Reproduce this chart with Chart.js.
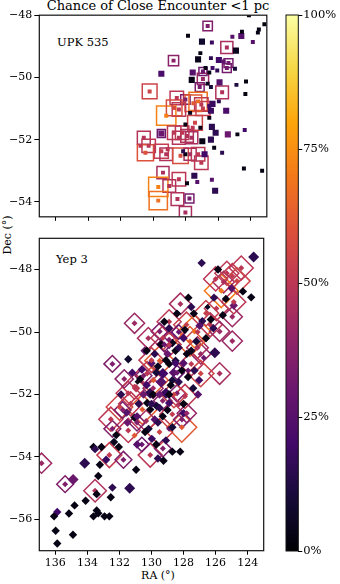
<!DOCTYPE html>
<html><head><meta charset="utf-8">
<script src="https://cdn.jsdelivr.net/npm/chart.js@4"></script>
<style>
html,body{margin:0;padding:0;background:#fff;}
body{width:340px;height:584px;position:relative;overflow:hidden;}
canvas{position:absolute;}
.t{position:absolute;white-space:nowrap;color:#000;font-family:"DejaVu Serif",serif;}
</style></head><body>
<div class="t" style="left:0;width:316px;top:-2px;text-align:center;font-size:13px;line-height:16px;">Chance of Close Encounter &lt;1 pc</div>
<div class="t" style="left:57px;top:35px;font-size:11.5px;line-height:14px;">UPK 535</div>
<div class="t" style="left:56px;top:252px;font-size:11.5px;line-height:14px;">Yep 3</div>
<div class="t" style="left:-22px;top:228px;width:60px;text-align:center;font-size:11px;line-height:14px;transform:rotate(-90deg);">Dec (°)</div>
<div class="t" style="left:118px;width:80px;top:569px;text-align:center;font-size:11px;line-height:14px;">RA (°)</div>
<canvas id="cTop" width="282" height="232" style="left:0;top:0;"></canvas>
<canvas id="cBot" width="282" height="350" style="left:0;top:220px;"></canvas>
<canvas id="cBar" width="60" height="584" style="left:280px;top:0;"></canvas>
<script>
// ---- data: UPK 535 ----
const upkRA = [123.15,126.64,127.85,126.99,126.38,125.12,124.57,124.53,123.55,123.49,
123.86,125.46,124.90,127.09,127.23,128.74,126.44,125.95,125.65,125.36,
126.77,126.34,125.46,124.96,129.49,127.56,126.93,126.54,126.05,127.62,
126.93,126.64,125.91,124.28,127.13,126.44,125.75,124.87,124.32,130.21,
128.54,128.01,127.23,127.03,127.52,126.54,126.34,125.95,129.19,128.41,
128.70,127.72,126.93,126.44,125.50,126.54,128.01,127.42,127.56,127.09,
126.38,126.15,125.40,124.81,124.36,129.49,128.70,128.21,128.41,127.91,
127.62,126.97,126.44,126.24,130.57,130.27,130.77,130.47,129.49,129.19,
129.10,128.31,128.01,127.72,127.23,126.83,127.03,128.15,125.75,124.41,
123.29,129.39,128.41,127.46,127.91,127.28,126.38,129.68,129.00,126.18,
129.68,128.50,127.76,128.01,124.10];
const upkDec = [-48.29,-48.35,-48.66,-48.85,-48.88,-48.69,-48.67,-48.53,-48.56,-48.46,
-48.86,-49.04,-49.14,-49.22,-49.42,-49.46,-49.38,-49.44,-49.49,-49.54,
-49.70,-49.70,-49.70,-49.72,-49.88,-49.84,-49.81,-49.84,-49.78,-50.08,
-50.05,-50.20,-50.16,-50.13,-50.31,-50.31,-50.48,-50.24,-50.53,-50.45,
-50.66,-50.71,-50.77,-50.87,-50.83,-50.92,-50.85,-50.77,-51.23,-51.03,
-50.98,-51.14,-51.00,-51.07,-51.07,-51.30,-51.51,-51.46,-51.62,-51.62,
-51.59,-51.78,-51.83,-51.83,-51.69,-51.80,-51.78,-51.78,-51.94,-51.88,
-51.94,-52.05,-52.00,-52.26,-51.94,-52.20,-52.20,-52.42,-52.37,-52.47,
-52.31,-52.52,-52.47,-52.47,-52.47,-52.47,-52.74,-52.37,-52.42,-52.93,
-53.00,-53.06,-53.27,-53.16,-53.40,-53.36,-53.29,-53.52,-53.49,-53.64,
-53.96,-53.91,-53.89,-54.34,-48.00];
const upkProb = [.02,.35,.02,.08,.18,.25,.25,.03,.03,.03,
.25,.45,.05,.03,.04,.38,.15,.2,.28,.33,
.03,.2,.33,.1,.22,.25,.3,.03,.15,.03,
.42,.05,.25,.02,.33,.1,.47,.12,.02,.55,
.5,.35,.68,.5,.62,.2,.18,.15,.72,.5,
.58,.05,.52,.18,.22,.03,.03,.55,.5,.03,
.15,.15,.3,.03,.2,.3,.5,.5,.48,.47,
.45,.03,.15,.03,.48,.5,.5,.6,.52,.47,
.5,.58,.03,.45,.5,.2,.5,.15,.15,.03,
.03,.45,.5,.15,.03,.25,.25,.72,.47,.15,
.68,.47,.33,.45,.02];
const upkMag = [1,1,1,2,1,1,2,1,1,1, 1,1,2,1,2,1,1,2,1,1, 1,1,1,1,2,2,1,1,1,2,
1,1,2,1,1,1,1,1,1,1, 1,1,1,1,1,1,2,1,1,1, 1,1,1,2,2,1,1,1,1,1,
2,2,2,1,1,2,1,1,1,1, 1,2,2,1,1,1,1,1,1,1, 1,1,1,1,1,2,1,1,1,1,
1,1,1,2,1,1,1,1,1,2, 1,1,1,1,1];
const upkRing = [0,1,0,1,0,0,0,0,0,0, 0,1,0,0,0,1,0,0,0,1, 0,0,1,0,0,0,1,0,0,0,
1,0,0,0,1,0,1,0,0,1, 1,1,1,1,1,0,0,0,1,1, 1,1,1,0,0,0,0,1,0,0,
0,0,0,0,0,1,1,1,1,1, 1,0,0,0,1,1,0,1,1,1, 0,1,0,1,1,0,1,0,0,0,
0,1,1,0,0,0,0,1,1,0, 1,1,1,1,0];
// ---- data: Yep 3 ----
const yepRA = [123.63,126.87,125.85,124.96,125.30,124.67,125.65,125.36,124.87,124.87,
123.78,125.95,126.50,125.55,124.96,127.52,127.36,126.83,128.41,128.90,
129.20,131.06,127.82,127.32,126.34,126.14,125.75,124.96,126.05,128.70,
128.50,128.90,129.29,130.43,131.45,127.13,126.74,127.52,127.72,125.75,
127.03,132.44,131.06,131.46,130.96,132.54,130.87,129.49,128.90,127.92,
127.12,128.90,128.30,127.52,126.93,129.49,128.90,128.50,128.11,129.29,
129.88,130.27,128.70,127.72,127.32,126.93,130.08,129.10,128.41,127.91,
130.27,129.68,128.90,128.31,132.00,131.55,131.06,130.57,130.08,129.49,
128.70,128.00,132.44,131.45,131.06,130.18,129.98,128.90,129.10,130.08,
129.29,128.70,128.21,133.62,133.12,132.63,132.83,131.75,130.96,133.32,
128.11,128.70,130.33,136.86,132.34,133.52,132.04,134.17,133.22,129.60,
134.89,135.39,133.52,133.42,132.44,131.36,132.54,134.11,134.80,133.42,
133.32,135.88,136.08,135.15,133.62,132.93,132.63,135.98,134.90,135.88,
129.25,129.80,129.60,130.00,129.00,130.60,129.90,130.50,128.60,129.30,
129.80,130.80,127.40,128.00,129.40,130.20,128.10,131.30,130.00,128.60,
127.60,126.60,130.60,129.50,131.80,128.00,127.10,129.10,129.70,130.30,
128.80,129.40,130.70,130.00,129.50,130.90,129.00,129.60,130.40,128.50,
128.30,127.80,128.00,127.20,126.60,126.30,127.00,131.20,131.90,131.50,
132.20,130.90,129.70,128.90,130.30,129.20,130.50,129.30,128.40,130.90,
131.70,128.30,127.80,129.90,128.20,125.50,125.00,126.10,127.70,124.40,
126.00,124.30];
const yepDec = [-47.60,-47.79,-48.00,-48.21,-48.12,-48.37,-48.68,-48.94,-49.15,-49.04,
-48.89,-49.25,-49.20,-49.46,-49.51,-49.20,-49.41,-49.65,-49.41,-49.67,
-49.67,-49.72,-49.77,-49.98,-49.77,-49.88,-49.98,-50.29,-50.66,-50.35,
-50.60,-50.25,-50.19,-50.60,-50.87,-50.50,-50.82,-51.02,-51.23,-51.33,
-51.54,-51.02,-51.75,-51.96,-51.80,-52.79,-51.59,-49.98,-49.88,-49.93,
-50.00,-50.40,-50.50,-50.60,-50.70,-50.92,-51.02,-50.92,-51.23,-51.33,
-51.54,-51.33,-51.54,-51.44,-51.23,-51.33,-51.96,-51.96,-51.96,-52.06,
-52.27,-52.37,-52.27,-52.32,-52.40,-52.58,-52.74,-52.48,-52.48,-52.43,
-52.63,-52.60,-53.10,-53.15,-53.31,-53.10,-53.42,-53.10,-53.47,-53.94,
-53.73,-53.83,-53.83,-53.68,-53.68,-53.94,-54.09,-54.09,-54.41,-54.61,
-53.05,-53.05,-52.85,-54.20,-53.52,-53.75,-53.68,-54.20,-54.25,-54.05,
-54.72,-54.87,-55.08,-55.19,-54.98,-55.00,-55.29,-55.40,-55.55,-55.71,
-55.80,-55.76,-55.90,-55.81,-55.90,-55.90,-55.90,-56.36,-56.49,-56.77,
-54.12,-50.70,-51.10,-51.00,-50.70,-51.20,-52.00,-52.00,-51.30,-52.70,
-52.80,-52.30,-51.80,-50.20,-50.40,-50.20,-52.80,-52.30,-50.90,-52.00,
-50.30,-49.40,-53.60,-53.20,-52.50,-52.30,-52.00,-50.90,-51.30,-51.70,
-51.70,-51.60,-51.50,-52.30,-52.00,-52.70,-52.50,-52.90,-53.20,-51.00,
-51.60,-50.70,-51.00,-50.30,-50.20,-49.60,-49.80,-51.30,-52.00,-52.90,
-53.30,-53.60,-53.60,-52.00,-50.60,-50.40,-51.40,-52.20,-51.30,-52.90,
-51.50,-50.00,-52.60,-51.80,-49.10,-48.40,-48.60,-48.90,-48.90,-47.95,
-48.30,-48.70];
const yepProb = [.15,.15,.03,.52,.5,.55,.7,.03,.30,.5,
.03,.5,.05,.03,.42,.15,.03,.15,.03,.5,
.03,.42,.53,.68,.5,.15,.42,.42,.15,.05,
.03,.35,.5,.30,.08,.45,.30,.5,.30,.45,
.18,.35,.52,.5,.5,.5,.03,.35,.15,.03,
.5,.5,.15,.05,.42,.62,.03,.10,.03,.20,
.62,.5,.10,.03,.15,.55,.15,.18,.35,.5,
.03,.10,.20,.47,.55,.25,.03,.62,.03,.15,
.52,.20,.35,.5,.62,.10,.18,.30,.15,.5,
.35,.03,.03,.03,.03,.52,.18,.35,.03,.03,
.62,.10,.45,.42,.05,.15,.03,.15,.03,.15,
.30,.35,.47,.03,.15,.15,.03,.03,.03,.03,
.03,.20,.03,.03,.03,.03,.03,.03,.03,.03,
.03,.15,.05,.25,.30,.20,.03,.30,.25,.03,
.25,.15,.10,.20,.03,.45,.35,.5,.52,.55,
.62,.53,.30,.55,.35,.03,.25,.03,.10,.20,
.03,.25,.03,.15,.30,.25,.03,.15,.03,.20,
.15,.03,.25,.10,.03,.03,.25,.20,.15,.30,
.03,.25,.03,.03,.03,.30,.35,.38,.30,.35,
.38,.30,.40,.42,.45,.45,.25,.15,.03,.5,
.5,.03];
const yepMag = [3,2,2,1,1,1,1,2,2,1, 2,1,1,2,1,2,2,2,2,1, 2,1,1,1,1,2,1,1,3,2,
2,1,1,2,2,1,1,1,1,1, 2,1,1,1,2,1,1,1,2,2, 1,1,2,2,1,1,2,2,2,3,
1,1,2,2,2,1,3,3,1,1, 2,2,2,1,1,2,2,1,2,2, 1,2,1,1,1,2,2,1,2,1,
1,2,2,2,2,1,2,1,2,2, 1,2,1,1,2,2,2,3,2,2, 3,1,1,2,2,3,2,2,2,2,
2,2,2,2,2,2,2,2,2,2, 2,2,2,2,2,2,2,2,2,2, 2,2,2,2,2,1,1,1,1,1,
1,1,1,1,1,2,2,2,2,2, 2,3,2,2,2,2,2,2,2,2, 2,2,2,2,2,2,2,2,2,2,
2,2,2,2,2,1,1,1,1,1, 1,1,1,1,1,1,2,2,2,1, 1,2];
const yepRing = [0,0,0,1,1,1,1,0,0,1, 0,1,1,0,1,0,0,0,0,1, 0,1,1,1,1,0,1,1,0,0,
0,1,1,0,1,1,0,1,0,1, 0,1,1,1,0,1,0,1,0,0, 0,1,0,0,1,1,0,0,0,0,
1,1,0,0,0,1,0,0,1,1, 0,0,0,0,1,0,0,1,0,0, 1,0,1,1,0,0,0,0,0,1,
1,0,0,0,0,1,0,1,0,0, 1,0,1,1,0,0,0,0,0,0, 0,1,1,0,0,0,0,0,0,0,
0,0,0,0,0,0,0,0,0,0, 0,0,0,0,0,0,0,0,0,0, 0,0,0,0,0,1,1,1,1,1,
1,1,1,1,1,0,0,0,0,0, 0,0,0,0,0,0,0,0,0,0, 0,0,0,0,0,0,0,0,0,0,
0,0,0,0,0,1,1,1,1,1, 1,1,1,1,1,1,0,0,0,1, 1,0];
// ---- tick labels ----
const raTicks = [136,134,132,130,128,126,124];
const upkDecTicks = [-48,-50,-52,-54];
const yepDecTicks = [-48,-50,-52,-54,-56];
const cbTicks = [0,25,50,75,100];

const INF = [[0,0,4],[22,11,57],[66,10,104],[106,23,110],[147,38,103],[188,55,84],[221,81,58],[243,120,25],[252,165,10],[246,215,70],[252,255,164]];
function inferno(t){
  t = Math.max(0, Math.min(1, t));
  const f = t*10, i = Math.min(9, Math.floor(f)), u = f - i, a = INF[i], b = INF[i+1];
  return 'rgb(' + [0,1,2].map(k => Math.round(a[k] + (b[k]-a[k])*u)).join(',') + ')';
}
const FONT = {family: '"DejaVu Serif", serif', size: 11};
const minus = v => v < 0 ? '\u2212' + Math.abs(v) : String(v);
const frame = {id:'frame', afterDraw(c){
  const a = c.chartArea, x = c.ctx; x.save(); x.strokeStyle = '#111'; x.lineWidth = 1.2;
  x.strokeRect(a.left, a.top, a.right-a.left, a.bottom-a.top); x.restore(); }};

function makePanel(id, ra, dec, prob, mag, ring, style, ringK, fillR, yMin, yMax, yTicks, showX, padTop, xH){
  const all = ra.map((v,i) => ({x:v, y:dec[i], p:prob[i], m:mag[i]}));
  const rings = all.filter((d,i) => ring[i] === 1);
  new Chart(document.getElementById(id), {
    type: 'scatter',
    data: {datasets: [
      {data: all, order: 1, pointStyle: style, clip: 0,
       pointRadius: c => fillR[c.raw.m], pointBackgroundColor: c => inferno(c.raw.p), pointBorderWidth: 0},
      {data: rings, order: 2, pointStyle: style, clip: 0,
       pointRadius: c => ringK*c.raw.p, pointBackgroundColor: 'rgba(0,0,0,0)', pointBorderColor: c => inferno(c.raw.p), pointBorderWidth: 1.5}
    ]},
    options: {
      responsive: false, animation: false, events: [],
      layout: {padding: {top: padTop, right: 6.3, left: 0, bottom: 0}},
      plugins: {legend: {display: false}, tooltip: {enabled: false}},
      scales: {
        x: {type: 'linear', reverse: true, min: 123, max: 137,
            afterBuildTicks: s => { s.ticks = raTicks.map(v => ({value: v})); },
            afterFit: s => { s.height = xH; },
            grid: {drawOnChartArea: false, drawTicks: true, tickLength: 4, color: '#000', lineWidth: 1},
            border: {display: false},
            ticks: {display: showX, color: '#000', font: FONT, padding: 2, maxRotation: 0, autoSkip: false, callback: v => String(v)}},
        y: {type: 'linear', min: yMin, max: yMax,
            afterBuildTicks: s => { s.ticks = yTicks.map(v => ({value: v})); },
            afterFit: s => { s.width = 39.3; },
            grid: {drawOnChartArea: false, drawTicks: true, tickLength: 5, color: '#000', lineWidth: 1},
            border: {display: false},
            ticks: {color: '#000', font: FONT, padding: 2, autoSkip: false, callback: minus}}
      }
    },
    plugins: [frame]
  });
}
makePanel('cTop', upkRA, upkDec, upkProb, upkMag, upkRing, 'rect', 19, [0,2.8,4.3,5.3], -54.48, -48, upkDecTicks, false, 15, 14.3);
makePanel('cBot', yepRA, yepDec, yepProb, yepMag, yepRing, 'rectRot', 24, [0,3.0,4.2,5.5], -57, -47, yepDecTicks, true, 11.7, 19.3);

const grad = {id:'grad', beforeDatasetsDraw(c){
  const a = c.chartArea, x = c.ctx, g = x.createLinearGradient(0, a.bottom, 0, a.top);
  for (let i = 0; i <= 20; i++) g.addColorStop(i/20, inferno(i/20));
  x.save(); x.fillStyle = g; x.fillRect(a.left, a.top, a.right-a.left, a.bottom-a.top);
  x.strokeStyle = '#111'; x.lineWidth = 1; x.strokeRect(a.left, a.top, a.right-a.left, a.bottom-a.top); x.restore(); }};
new Chart(document.getElementById('cBar'), {
  type: 'scatter', data: {datasets: []},
  options: {responsive: false, animation: false, events: [],
    layout: {padding: {left: 6, top: 15, bottom: 33, right: 0}},
    plugins: {legend: {display: false}, tooltip: {enabled: false}},
    scales: {
      x: {display: false, min: 0, max: 1},
      y: {position: 'right', min: 0, max: 100,
          afterBuildTicks: s => { s.ticks = cbTicks.map(v => ({value: v})); },
          afterFit: s => { s.width = 41.7; },
          grid: {drawOnChartArea: false, drawTicks: true, tickLength: 4, color: '#000'},
          border: {display: false},
          ticks: {color: '#000', font: {family: '"DejaVu Serif", serif', size: 11.5}, padding: 1, callback: v => v + '%'}}
    }},
  plugins: [grad]
});
</script>
</body></html>
